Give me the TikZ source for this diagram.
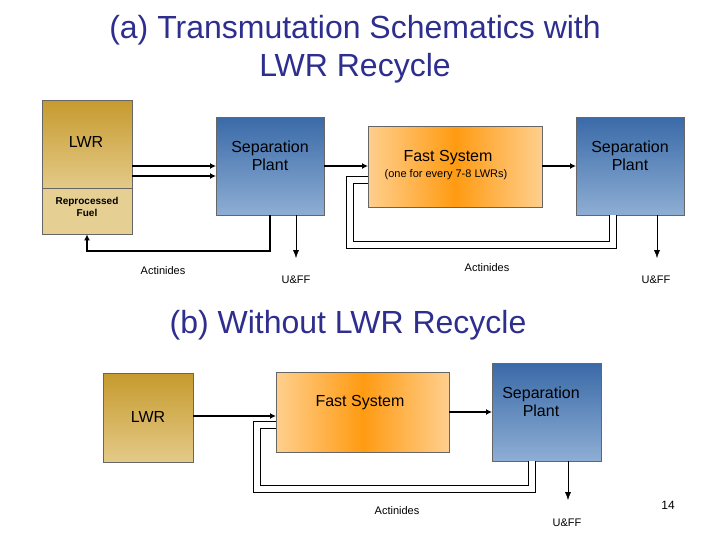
\documentclass[tikz,border=0pt]{standalone}
\usepackage{fontspec}
\setmainfont{Liberation Sans}
\usetikzlibrary{arrows.meta,calc}
\definecolor{titleblue}{HTML}{2E2E8E}
\definecolor{goldtop}{HTML}{C69A2E}
\definecolor{goldbot}{HTML}{E4CA88}
\definecolor{tan}{HTML}{E6CF92}
\definecolor{bluetop}{HTML}{3A6AA8}
\definecolor{bluebot}{HTML}{8EAED4}
\definecolor{orlight}{HTML}{FFCF8E}
\definecolor{ordeep}{HTML}{FF9B12}
\tikzset{
  box/.style={draw=black!60,anchor=north west,inner sep=0pt},
  lwr/.style={box,top color=goldtop,bottom color=goldbot},
  sep/.style={box,top color=bluetop,bottom color=bluebot},
  fast/.style={box,left color=orlight,right color=orlight,middle color=ordeep},
  flow/.style={line width=1.6pt,-{Latex[length=6pt,width=6pt]}},
  waste/.style={thin,-{Latex[length=8pt,width=6pt]}},
  recyc/.style={draw=black,double=white,line width=0.7pt,double distance=6pt},
  small/.style={font=\fontsize{11}{13}\selectfont},
  big/.style={font=\fontsize{16}{18}\selectfont,align=center},
  title/.style={font=\fontsize{32}{38}\selectfont,text=titleblue,align=center}
}
\begin{document}
\begin{tikzpicture}[x=1pt,y=-1pt]
  \useasboundingbox (0,0) rectangle (720,540);
  %% titles
  \node[title] (ttla) at (355,49) {(a) Transmutation Schematics with\\LWR Recycle};
  \node[title] (ttlb) at (348,325) {(b) Without LWR Recycle};

  %% (a) boxes
  \node[lwr,minimum width=90pt,minimum height=88pt] (lwra) at (42,100) {};
  \node[box,fill=tan,minimum width=90pt,minimum height=46pt] (fuel) at (42,188) {};
  \node[big] (lwralbl) at (86,142) {LWR};
  \node[font=\fontsize{10}{12}\selectfont\bfseries,align=center] (fuellbl) at (87,207) {Reprocessed\\Fuel};
  \node[sep,minimum width=108pt,minimum height=98pt] (sepa) at (216,117) {};
  \node[big] (sepalbl) at (270,156) {Separation\\Plant};
  \node[fast,minimum width=174pt,minimum height=81pt] (fasta) at (368,126) {};
  \node[big] (fastalbl) at (448,158) {Fast System};
  \node[small] (fastanote) at (446,175) {(one for every 7-8 LWRs)};
  \node[sep,minimum width=108pt,minimum height=98pt] (sepb) at (576,117) {};
  \node[big] (sepblbl) at (630,156) {Separation\\Plant};

  %% (a) connectors
  \draw[flow] (lwra.east |- 0,166) -- (sepa.west |- 0,166);
  \draw[flow] (fuel.north east |- 0,176) -- (sepa.west |- 0,176);
  \draw[flow] (sepa.east |- 0,166) -- (fasta.west |- 0,166);
  \draw[flow] (fasta.east |- 0,166) -- (sepb.west |- 0,166);
  \draw[flow] (sepa.south -| 270,0) |- (87,251) -- (fuel.south -| 87,0);
  \coordinate (ufa) at (296,258);
  \draw[waste] (sepa.south -| ufa) -- (ufa);
  \coordinate (ufb) at (657,258);
  \draw[waste] (sepb.south -| ufb) -- (ufb);
  \draw[recyc] (sepb.south -| 613,0) |- (350,245) |- (fasta.west |- 0,180);
  \node[small] (acta) at (163,271) {Actinides};
  \node[small] (actb) at (487,268) {Actinides};
  \node[small] (ufalbl) at (296,280) {U\&FF};
  \node[small] (ufblbl) at (656,280) {U\&FF};

  %% (b) boxes
  \node[lwr,minimum width=90pt,minimum height=89pt] (lwrb) at (103,373) {};
  \node[big] (lwrblbl) at (148,417) {LWR};
  \node[fast,minimum width=173pt,minimum height=80pt] (fastb) at (276,372) {};
  \node[big] (fastblbl) at (360,403) {Fast System};
  \node[sep,minimum width=109pt,minimum height=98pt] (sepc) at (492,363) {};
  \node[big] (sepclbl) at (541,402) {Separation\\Plant};

  %% (b) connectors
  \draw[flow] (lwrb.east |- 0,416) -- (fastb.west |- 0,416);
  \draw[flow] (fastb.east |- 0,412) -- (sepc.west |- 0,412);
  \draw[recyc] (sepc.south -| 532,0) |- (257,489) |- (fastb.west |- 0,425);
  \coordinate (ufc) at (568,500);
  \draw[waste] (sepc.south -| ufc) -- (ufc);
  \node[small] (actc) at (397,511) {Actinides};
  \node[small] (ufclbl) at (567,523) {U\&FF};
  \node[font=\fontsize{12}{14}\selectfont] (pgno) at (668,505) {14};
\end{tikzpicture}
\end{document}
